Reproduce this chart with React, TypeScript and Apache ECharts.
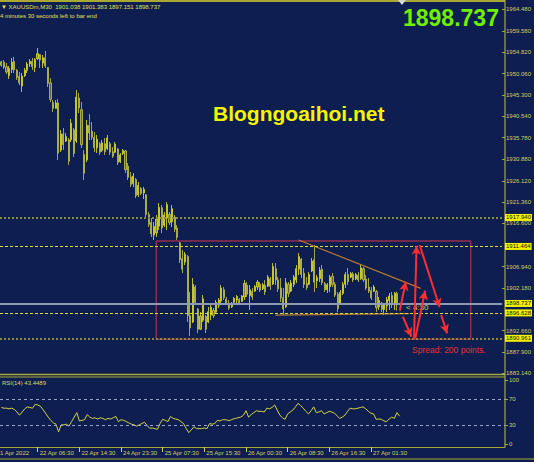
import React, { useEffect, useRef } from 'react';
import * as echarts from 'echarts';

const SLOTS = 194;
const FONT = '"Liberation Sans", Arial, sans-serif';
const BG = '#0e1e50';
const FRAME = '#a8a832';
const LABEL = '#d0d060';

const openP = [
  1952.7, 1952.6, 1951.6, 1949.6, 1951.0, 1952.8, 1950.8, 1949.4, 1947.3, 1949.6,
  1950.8, 1952.2, 1952.8, 1951.4, 1953.4, 1954.3, 1952.4, 1953.6, 1951.4, 1948.0,
  1943.6, 1942.3, 1943.5, 1933.0, 1936.6, 1935.0, 1935.3, 1935.3, 1937.5, 1935.0,
  1944.6, 1942.0, 1932.0, 1930.8, 1938.5, 1937.2, 1935.8, 1933.5, 1934.4, 1932.9,
  1934.4, 1933.3, 1934.4, 1932.6, 1932.5, 1933.2, 1930.4, 1932.2, 1932.8, 1929.4,
  1927.0, 1925.5, 1926.4, 1923.0, 1924.4, 1923.4, 1923.0, 1918.6, 1916.8, 1914.0,
  1914.5, 1916.0, 1920.1, 1916.2, 1917.8, 1918.6, 1917.0, 1918.0, 1915.6, 1912.3,
  1908.8, 1908.0, 1909.2, 1896.0, 1894.6, 1902.4, 1897.5, 1893.0, 1895.0, 1895.8,
  1894.6, 1896.2, 1897.2, 1896.8, 1898.3, 1899.3, 1901.8, 1899.7, 1898.8, 1898.0,
  1899.0, 1899.5, 1899.6, 1899.2, 1900.2, 1902.8, 1900.5, 1901.4, 1901.5, 1902.4,
  1903.0, 1902.0, 1902.8, 1902.6, 1904.2, 1903.1, 1906.5, 1904.0, 1902.2, 1900.0,
  1898.0, 1903.0, 1901.5, 1903.0, 1904.0, 1906.4, 1908.6, 1905.5, 1903.2, 1903.0,
  1906.0, 1908.5, 1903.8, 1904.3, 1906.4, 1903.2, 1901.8, 1902.5, 1904.8, 1903.0,
  1900.8, 1898.8, 1901.0, 1903.0, 1905.2, 1904.6, 1905.3, 1904.2, 1905.0, 1904.3,
  1906.5, 1904.2, 1902.4, 1901.6, 1901.5, 1901.4, 1898.0, 1898.8, 1897.4, 1898.2,
  1899.4, 1900.5, 1898.8, 1901.038,
];
const closeP = [
  1951.9, 1951.5, 1950.4, 1951.2, 1952.6, 1950.9, 1949.2, 1948.0, 1949.5, 1950.8,
  1952.2, 1952.8, 1951.6, 1953.2, 1954.5, 1953.1, 1953.6, 1951.8, 1947.9, 1944.3,
  1942.3, 1943.5, 1932.3, 1936.6, 1934.2, 1936.0, 1930.5, 1939.0, 1932.2, 1944.8,
  1942.4, 1934.2, 1927.8, 1938.5, 1936.8, 1935.8, 1933.5, 1935.4, 1932.5, 1934.6,
  1932.6, 1935.7, 1932.5, 1931.6, 1934.3, 1930.2, 1931.9, 1932.9, 1928.6, 1926.9,
  1925.3, 1927.2, 1922.8, 1925.1, 1923.3, 1924.2, 1918.6, 1916.4, 1914.3, 1915.9,
  1917.6, 1920.2, 1915.6, 1918.5, 1920.8, 1916.8, 1919.9, 1915.3, 1913.5, 1908.5,
  1906.4, 1909.7, 1896.0, 1893.3, 1903.0, 1899.0, 1893.0, 1895.9, 1899.8, 1893.0,
  1896.9, 1897.9, 1896.0, 1899.0, 1899.5, 1902.2, 1900.0, 1898.8, 1897.7, 1898.8,
  1899.9, 1900.3, 1898.7, 1900.4, 1903.2, 1900.8, 1901.8, 1900.2, 1902.5, 1903.5,
  1901.7, 1902.9, 1901.3, 1904.6, 1902.6, 1907.0, 1904.0, 1902.0, 1900.0, 1897.5,
  1903.4, 1901.0, 1903.3, 1904.6, 1906.5, 1909.2, 1905.2, 1903.0, 1902.3, 1905.2,
  1908.2, 1903.5, 1904.5, 1906.2, 1903.4, 1901.8, 1902.9, 1904.6, 1903.0, 1900.6,
  1897.6, 1901.2, 1903.0, 1905.2, 1903.6, 1905.4, 1904.0, 1905.2, 1904.0, 1906.7,
  1904.0, 1902.2, 1901.5, 1900.0, 1902.4, 1897.8, 1899.4, 1897.4, 1898.4, 1899.6,
  1900.4, 1898.5, 1901.0, 1898.737,
];
const highP = [
  1952.93, 1953.09, 1952.42, 1951.75, 1953.54, 1953.76, 1951.08, 1950.41, 1950.19, 1951.31,
  1952.65, 1953.32, 1953.54, 1953.54, 1955.77, 1954.43, 1954.21, 1955.10, 1951.53, 1949.07,
  1944.16, 1944.16, 1944.38, 1937.46, 1937.91, 1936.79, 1935.67, 1939.92, 1937.91, 1946.39,
  1945.72, 1943.71, 1933.00, 1939.70, 1941.03, 1939.25, 1937.02, 1936.35, 1934.79, 1935.23,
  1935.67, 1936.35, 1934.79, 1933.67, 1934.79, 1933.44, 1932.33, 1933.22, 1933.00, 1930.09,
  1928.09, 1927.86, 1926.74, 1925.85, 1924.73, 1924.73, 1923.17, 1919.15, 1917.81, 1916.92,
  1918.48, 1921.16, 1920.71, 1919.15, 1921.38, 1919.15, 1920.71, 1918.48, 1916.25, 1912.45,
  1910.67, 1910.22, 1909.55, 1901.29, 1904.41, 1902.85, 1897.72, 1896.82, 1900.62, 1896.15,
  1897.94, 1898.38, 1897.72, 1899.51, 1899.95, 1902.85, 1902.40, 1900.17, 1899.51, 1899.06,
  1900.17, 1900.62, 1899.95, 1900.62, 1903.97, 1903.53, 1902.85, 1902.18, 1902.85, 1903.97,
  1903.53, 1903.30, 1903.97, 1905.08, 1904.64, 1907.76, 1907.76, 1904.64, 1904.41, 1902.18,
  1904.41, 1903.53, 1903.97, 1905.08, 1907.32, 1909.99, 1908.88, 1906.65, 1904.64, 1905.75,
  1908.88, 1911.78, 1905.08, 1906.87, 1907.32, 1903.52, 1903.30, 1905.08, 1905.53, 1903.52,
  1901.29, 1901.74, 1903.52, 1905.75, 1906.65, 1905.75, 1905.75, 1905.53, 1905.75, 1907.32,
  1906.87, 1905.08, 1904.41, 1902.40, 1902.85, 1901.74, 1900.17, 1899.06, 1898.83, 1900.17,
  1901.07, 1901.29, 1901.29, 1901.383,
];
const lowP = [
  1951.60, 1951.08, 1949.97, 1948.86, 1950.19, 1950.19, 1948.63, 1947.51, 1945.96, 1949.30,
  1950.19, 1951.53, 1950.86, 1950.41, 1953.09, 1951.31, 1951.31, 1951.31, 1947.06, 1943.71,
  1941.48, 1942.37, 1930.77, 1932.56, 1933.00, 1934.79, 1929.65, 1934.79, 1931.43, 1934.57,
  1941.26, 1933.44, 1926.30, 1930.32, 1935.23, 1935.23, 1932.56, 1932.33, 1931.88, 1932.56,
  1931.88, 1933.00, 1931.88, 1931.21, 1932.33, 1929.65, 1930.09, 1931.88, 1927.87, 1926.30,
  1924.74, 1924.74, 1922.28, 1922.51, 1922.95, 1922.06, 1918.04, 1915.80, 1913.57, 1912.91,
  1913.57, 1915.14, 1914.46, 1915.80, 1915.14, 1916.25, 1915.80, 1914.69, 1912.91, 1907.76,
  1905.53, 1907.31, 1894.59, 1891.46, 1894.36, 1898.38, 1892.13, 1892.80, 1894.59, 1892.13,
  1894.36, 1895.04, 1895.48, 1896.59, 1897.72, 1898.83, 1899.51, 1898.38, 1897.28, 1897.72,
  1898.83, 1898.83, 1898.38, 1899.06, 1899.51, 1900.17, 1897.28, 1899.51, 1901.29, 1901.74,
  1901.29, 1901.74, 1900.62, 1902.40, 1901.74, 1902.85, 1902.85, 1901.29, 1899.06, 1896.15,
  1897.72, 1900.17, 1901.29, 1902.40, 1903.30, 1905.08, 1904.41, 1902.18, 1901.74, 1902.85,
  1905.75, 1901.29, 1902.18, 1903.52, 1902.85, 1901.29, 1901.07, 1901.29, 1902.40, 1900.17,
  1896.82, 1898.38, 1900.62, 1902.18, 1902.85, 1904.41, 1903.52, 1903.97, 1903.52, 1903.97,
  1903.52, 1901.74, 1901.07, 1899.51, 1901.29, 1896.82, 1897.28, 1896.82, 1896.15, 1896.82,
  1897.28, 1897.72, 1897.28, 1897.151,
];

const rsi = [
  57, 56, 56, 55, 56, 54, 50, 45, 50, 55,
  58, 57, 56, 62, 61, 59, 54, 48, 42, 37,
  33, 31, 19, 30, 30, 31, 28, 35, 42, 49,
  36, 37, 38, 46, 42, 40, 41, 39, 41, 40,
  38, 40, 39, 41, 43, 35, 38, 37, 35, 33,
  31, 30, 28, 30, 32, 34, 29, 24.5, 25, 24,
  23, 32, 38.6, 37, 35, 43, 40, 39, 38, 35,
  32, 24.5, 17.7, 22, 27, 24, 24, 24, 25, 24,
  32, 31, 32, 37, 36, 38, 38, 37, 37, 39,
  40, 41, 42, 45, 52, 42, 46, 49, 52, 51,
  51, 50, 56, 55, 57, 61, 53, 45, 41, 38.6,
  47, 50, 53, 58, 63.6, 60, 56, 51, 47, 52,
  58, 49, 50, 52, 47, 49, 51, 50, 48, 44,
  40, 42, 45, 51, 56, 55, 55, 56, 57, 58,
  55, 51, 48, 47, 38.6, 39, 38.6, 36, 35, 39,
  42, 40, 49, 43.4489,
];

const timeTickIdx = [-2, 14, 30, 46, 62, 78, 94, 110, 126, 142];
const timeTickText = ['21 Apr 2022', '22 Apr 06:30', '22 Apr 14:30', '24 Apr 23:30', '25 Apr 07:30', '25 Apr 15:30', '26 Apr 00:30', '26 Apr 08:30', '26 Apr 16:30', '27 Apr 01:30'];
const priceTicks = [1964.48, 1959.58, 1954.82, 1950.06, 1945.3, 1940.54, 1935.78, 1930.88, 1926.12, 1921.36, 1916.6, 1906.94, 1902.18, 1892.66, 1887.9, 1883.14];
const rsiTicks = [0, 30, 70, 100];
const rsiLevels = [70, 30];
const dottedLevels = [1917.94, 1890.961];
const dashedLevels = [1911.464, 1896.628];
const bidPrice = 1898.737;
const priceMin = 1882.99;
const priceMax = 1965.82;

const boxX = [59.9, 181.4];
const boxY = [1890.74, 1912.68];
const trendLine = [[114.9, 1912.91], [162.1, 1902.11]];
const supportLine = [[106, 1896.15], [157.6, 1896.49]];
const arrows = [
  [[154.0, 1897.12], [156.3, 1903.59]],
  [[155.2, 1895.78], [158.5, 1891.31]],
  [[159.5, 1890.73], [160.5, 1911.63]],
  [[160.0, 1890.96], [163.8, 1901.57]],
  [[161.7, 1911.78], [169.4, 1897.88]],
  [[170.0, 1896.15], [172.3, 1892.06]],
];

export default function App() {
  const ref = useRef<HTMLDivElement>(null);
  useEffect(() => {
    document.body.style.margin = '0';
    const chart = echarts.init(ref.current!, undefined, { renderer: 'svg' });
    const cats = Array.from({ length: SLOTS }, (_, i) => String(i));
    const candles = openP.map((o, i) => [o, closeP[i], lowP[i], highP[i]]);
    const hlLabel = (v: number) => ({
      show: true,
      position: 'end',
      distance: 3,
      formatter: v.toFixed(3),
      backgroundColor: '#f2f200',
      color: '#141414',
      fontSize: 6,
      fontFamily: FONT,
      padding: [1, 1, 0, 1],
    });
    const dotted = { color: '#8a8a3c', width: 2, type: [2, 2] };
    const dashed = { color: '#dede22', width: 1, type: [3, 2] };
    const txt = (x: number, y: number, text: string, fill: string, size: number, weight = 'normal') => ({
      type: 'text',
      x,
      y,
      silent: true,
      style: { text, fill, fontSize: size, fontFamily: FONT, fontWeight: weight, verticalAlign: 'middle', textVerticalAlign: 'middle' },
    });
    const hline = (y: number, x1: number, x2: number, w = 1) => ({
      type: 'line',
      silent: true,
      shape: { x1, y1: y, x2, y2: y },
      style: { stroke: FRAME, lineWidth: w },
    });
    const baseGraphic: any[] = [
      hline(1, 0, 505, 2),
      hline(374.5, 0, 505, 1.5),
      hline(377, 0, 505, 1),
      hline(459, 0, 534, 1),
      { type: 'line', silent: true, shape: { x1: 505, y1: 0, x2: 505, y2: 447 }, style: { stroke: FRAME, lineWidth: 1.2 } },
      { type: 'polygon', silent: true, shape: { points: [[398, 0], [406, 0], [402, 5]] }, style: { fill: '#d8d8d8' } },
      txt(1, 7, '▼ XAUUSDm,M30  1901.038 1901.383 1897.151 1898.737', '#e0e050', 6),
      txt(0, 15.5, '4 minutes 30 seconds left to bar end', '#e0e050', 6),
      txt(403, 18, '1898.737', '#72ee00', 23, 'bold'),
      txt(213, 113, 'Blogngoaihoi.net', '#f4f400', 21, 'bold'),
      txt(406, 307, '< 4:30', '#d4d46a', 8),
      txt(412, 350, 'Spread: 200 points.', '#e33232', 8.5),
      txt(2, 382.5, 'RSI(14) 43.4489', '#d8d860', 6),
    ];
    const option: any = {
      animation: false,
      backgroundColor: BG,
      grid: [
        { left: 0, top: 3, width: 505, height: 371, show: false },
        { left: 0, top: 380, width: 505, height: 64, show: false },
      ],
      xAxis: [
        { type: 'category', gridIndex: 0, data: cats, show: false, boundaryGap: true, axisLine: { onZero: false } },
        { type: 'value', gridIndex: 0, min: -0.5, max: SLOTS - 0.5, show: false, axisLine: { onZero: false } },
        {
          type: 'value',
          gridIndex: 1,
          min: -0.5,
          max: SLOTS - 0.5,
          position: 'bottom',
          offset: 3,
          axisLine: { show: true, onZero: false, lineStyle: { color: FRAME, width: 1 } },
          axisTick: { show: true, customValues: timeTickIdx.filter((v) => v >= 0), length: 5, lineStyle: { color: LABEL } },
          axisLabel: {
            show: true,
            customValues: timeTickIdx.filter((v) => v >= 0),
            formatter: (v: number) => timeTickText[timeTickIdx.indexOf(Math.round(v))] || '',
            align: 'left',
            padding: [0, 0, 0, 2],
            margin: 3,
            color: LABEL,
            fontSize: 6,
            fontFamily: FONT,
          },
          splitLine: { show: false },
        },
      ],
      yAxis: [
        {
          type: 'value',
          gridIndex: 0,
          position: 'right',
          min: priceMin,
          max: priceMax,
          axisLine: { show: false, onZero: false },
          axisTick: { show: true, customValues: priceTicks, length: 3, lineStyle: { color: FRAME } },
          axisLabel: {
            show: true,
            customValues: priceTicks,
            formatter: (v: number) => v.toFixed(3),
            margin: 4,
            color: LABEL,
            fontSize: 6,
            fontFamily: FONT,
          },
          splitLine: { show: false },
        },
        {
          type: 'value',
          gridIndex: 1,
          position: 'right',
          min: 0,
          max: 100,
          axisLine: { show: false, onZero: false },
          axisTick: { show: true, customValues: rsiTicks, length: 3, lineStyle: { color: FRAME } },
          axisLabel: {
            show: true,
            customValues: rsiTicks,
            formatter: (v: number) => String(v),
            margin: 4,
            color: LABEL,
            fontSize: 6,
            fontFamily: FONT,
          },
          splitLine: { show: false },
        },
      ],
      series: [
        {
          type: 'candlestick',
          xAxisIndex: 0,
          yAxisIndex: 0,
          data: candles,
          barWidth: 1.6,
          itemStyle: {
            color: '#86862c',
            color0: '#62663a',
            borderColor: '#e4e428',
            borderColor0: '#c8c846',
            borderWidth: 0.8,
          },
          markLine: {
            silent: true,
            symbol: 'none',
            animation: false,
            precision: 3,
            data: [
              ...dottedLevels.map((v) => ({ yAxis: v, lineStyle: dotted, label: hlLabel(v) })),
              ...dashedLevels.map((v) => ({ yAxis: v, lineStyle: dashed, label: hlLabel(v) })),
              { yAxis: bidPrice, lineStyle: { color: '#8e9ab4', width: 2, type: 'solid' }, label: hlLabel(bidPrice) },
            ],
          },
          z: 3,
        },
        {
          type: 'line',
          xAxisIndex: 1,
          yAxisIndex: 0,
          data: [
            [boxX[0], boxY[1]],
            [boxX[1], boxY[1]],
            [boxX[1], boxY[0]],
            [boxX[0], boxY[0]],
            [boxX[0], boxY[1]],
          ],
          symbol: 'none',
          silent: true,
          lineStyle: { color: '#922f4a', width: 1.5 },
          z: 2,
        },
        {
          type: 'line',
          xAxisIndex: 1,
          yAxisIndex: 0,
          data: supportLine,
          symbol: 'none',
          silent: true,
          lineStyle: { color: '#b47a30', width: 1.2 },
          z: 4,
        },
        {
          type: 'line',
          xAxisIndex: 1,
          yAxisIndex: 0,
          data: trendLine,
          symbol: 'none',
          silent: true,
          lineStyle: { color: '#b47a30', width: 1.2 },
          z: 4,
          markLine: {
            silent: true,
            animation: false,
            symbol: ['none', 'arrow'],
            symbolSize: [7, 9],
            lineStyle: { color: '#ff2e2e', width: 2, type: 'solid' },
            label: { show: false },
            data: arrows.map(([a, b]) => [{ coord: a }, { coord: b }]),
          },
        },
        {
          type: 'line',
          xAxisIndex: 2,
          yAxisIndex: 1,
          data: rsi.map((v, i) => [i, v]),
          symbol: 'none',
          silent: true,
          lineStyle: { color: '#d4d43c', width: 1 },
          markLine: {
            silent: true,
            symbol: 'none',
            animation: false,
            label: { show: false },
            lineStyle: { color: '#9aa2c8', width: 1, type: [3, 3] },
            data: rsiLevels.map((v) => ({ yAxis: v })),
          },
        },
      ],
      graphic: baseGraphic,
    };
    chart.setOption(option);
    const px = chart.convertToPixel({ xAxisIndex: 2 }, timeTickIdx[0]) as number;
    chart.setOption({
      graphic: [...baseGraphic, txt(px + 0.6, 453, timeTickText[0], LABEL, 6)],
    });
    return () => chart.dispose();
  }, []);
  return <div ref={ref} style={{ width: 534, height: 462 }} />;
}
